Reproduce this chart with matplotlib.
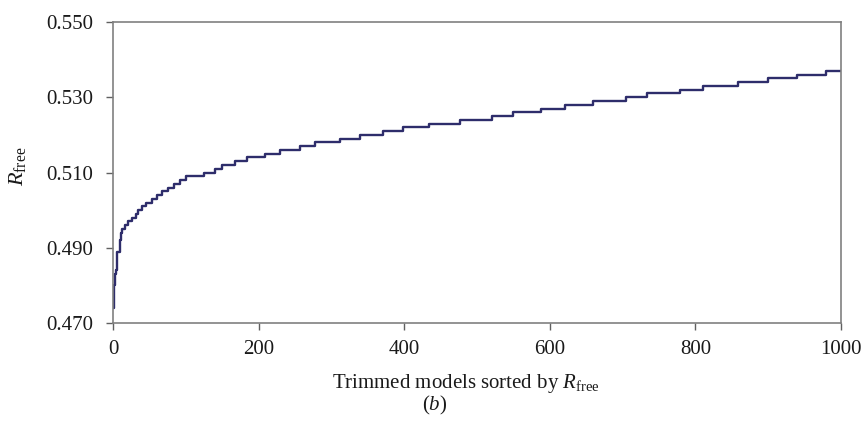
import numpy as np
import matplotlib.pyplot as plt

# Rfree (redondeado a 3 decimales) y primer modelo en que aparece cada valor
inicio_escalon = [0, 1, 2, 3, 4, 5, 6, 9, 11, 13, 17, 21, 26, 31, 35, 40, 46, 54,
                  60, 67, 76, 84, 92, 101, 125, 140, 150, 168, 184, 209, 229, 257,
                  277, 312, 339, 371, 398, 434, 477, 521, 549, 588, 621, 659, 705,
                  734, 779, 810, 859, 900, 940, 979]
rfree = [0.474, 0.476, 0.480, 0.483, 0.484, 0.488, 0.489, 0.492, 0.494, 0.495,
         0.496, 0.497, 0.498, 0.499, 0.500, 0.501, 0.502, 0.503, 0.504, 0.505,
         0.506, 0.507, 0.508, 0.509, 0.510, 0.511, 0.512, 0.513, 0.514, 0.515,
         0.516, 0.517, 0.518, 0.519, 0.520, 0.521, 0.522, 0.523, 0.524, 0.525,
         0.526, 0.527, 0.528, 0.529, 0.530, 0.531, 0.532, 0.533, 0.534, 0.535,
         0.536, 0.537]
n_modelos = 1000

xticks = [0, 200, 400, 600, 800, 1000]
yticks = [0.470, 0.490, 0.510, 0.530, 0.550]

plt.rcParams['font.family'] = 'Liberation Serif'
plt.rcParams['mathtext.fontset'] = 'custom'
plt.rcParams['mathtext.rm'] = 'Liberation Serif'
plt.rcParams['mathtext.it'] = 'Liberation Serif:italic'

fig = plt.figure(figsize=(8.63, 4.21), dpi=100)
ax = fig.add_axes([0.1309, 0.2328, 0.8436, 0.7149])

ax.step(inicio_escalon + [n_modelos], rfree + [rfree[-1]], where='post',
        color='#2e2d6b', lw=1.7)

ax.set_xlim(0, 1000)
ax.set_ylim(0.470, 0.550)
ax.set_xticks(xticks)
ax.set_yticks(yticks)
ax.set_yticklabels([f'{v:.3f}' for v in yticks])

for s in ax.spines.values():
    s.set_color('#808080')
    s.set_linewidth(1.2)
ax.tick_params(axis='both', direction='out', length=5, width=1.0, color='#606060',
               labelsize=15, labelcolor='#1a1a1a')
ax.tick_params(axis='y', pad=9)
ax.tick_params(axis='x', pad=7)

fig.text(0.020, 0.606, r'$R_{\mathrm{free}}$', rotation=90, fontsize=16,
         ha='center', va='center', color='#1a1a1a')
fig.text(0.540, 0.088, r'Trimmed models sorted by $R_{\mathrm{free}}$', fontsize=15,
         ha='center', va='center', color='#1a1a1a')
fig.text(0.504, 0.036, r'($b$)', fontsize=15, ha='center', va='center',
         color='#1a1a1a')

plt.savefig('out.png', dpi=100)
